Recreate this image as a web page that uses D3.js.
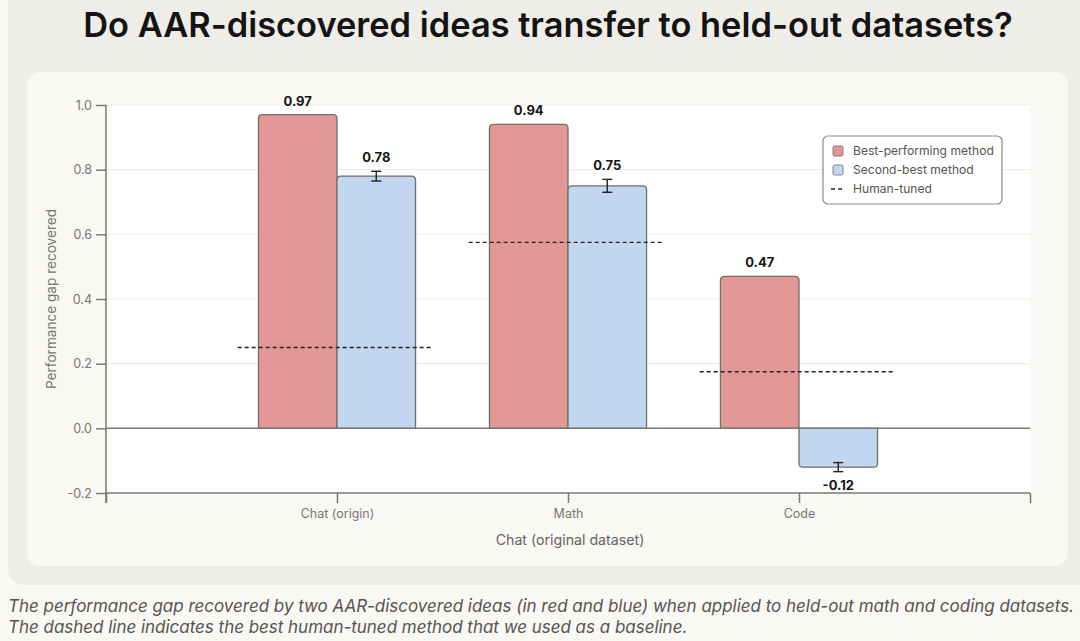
<!DOCTYPE html>
<html><head><meta charset="utf-8">
<script src="https://cdn.jsdelivr.net/npm/d3@7"></script>
<style>
html,body{margin:0;padding:0;background:#f9f8f5;}
svg{display:block;}
</style></head>
<body>
<svg id="c" width="1080" height="641"></svg>
<script>
const categories = ["Chat (origin)", "Math", "Code"];
const bestValues = [0.97, 0.94, 0.47];
const secondValues = [0.78, 0.75, -0.12];
const secondErrors = [0.015, 0.02, 0.014];
const humanTuned = [0.25, 0.575, 0.175];
const yTicks = [-0.2, 0.0, 0.2, 0.4, 0.6, 0.8, 1.0];
const yTickLabels = ["-0.2", "0.0", "0.2", "0.4", "0.6", "0.8", "1.0"];
const seriesNames = ["Best-performing method", "Second-best method", "Human-tuned"];
const seriesColors = ["#e39896", "#c3d6f0"];

const svg = d3.select("#c");
const W = 1080, H = 641;
const font = "Inter, 'Open Sans', sans-serif";

// backgrounds
svg.append("rect").attr("x",0).attr("y",0).attr("width",W).attr("height",H).attr("fill","#f9f8f5");
svg.append("rect").attr("x",8).attr("y",-20).attr("width",1092).attr("height",605).attr("rx",16).attr("fill","#efede7");
svg.append("rect").attr("x",27).attr("y",72).attr("width",1041).attr("height",494).attr("rx",13).attr("fill","#f9f8f5");

const m = {l:106, r:1030, t:105, b:493};
const x = d3.scaleLinear().domain([0, 4]).range([m.l, m.r]);
const y = d3.scaleLinear().domain([-0.2, 1.0]).range([m.b, m.t]);

svg.append("rect").attr("x",m.l).attr("y",m.t).attr("width",m.r-m.l).attr("height",m.b-m.t).attr("fill","#ffffff");

// gridlines
svg.append("g").selectAll("line").data(yTicks.filter(d=>d!==0 && d!==-0.2)).join("line")
  .attr("x1",m.l).attr("x2",m.r).attr("y1",d=>y(d)).attr("y2",d=>y(d))
  .attr("stroke","#f0eee9").attr("stroke-width",1.2);

// title
const title = svg.append("text").attr("x",548).attr("y",37).attr("text-anchor","middle")
  .attr("font-family",font).attr("font-weight",600).attr("font-size",31).attr("fill","#141413")
  .text("Do AAR-discovered ideas transfer to held-out datasets?");
const tl = title.node().getComputedTextLength();
title.attr("font-size", 31*930/tl);

const bw = 0.34;
function barPath(x0, x1, v) {
  const y0 = y(0), y1 = y(v), r = 4;
  if (v >= 0) {
    return `M${x0},${y0}V${y1+r}Q${x0},${y1} ${x0+r},${y1}H${x1-r}Q${x1},${y1} ${x1},${y1+r}V${y0}Z`;
  } else {
    return `M${x0},${y0}V${y1-r}Q${x0},${y1} ${x0+r},${y1}H${x1-r}Q${x1},${y1} ${x1},${y1-r}V${y0}Z`;
  }
}

const g = svg.append("g");
categories.forEach((c,i)=>{
  const cx = i+1;
  g.append("path").attr("d", barPath(x(cx-bw), x(cx), bestValues[i]))
    .attr("fill",seriesColors[0]).attr("stroke","#6e6e6b").attr("stroke-width",1.3);
  g.append("path").attr("d", barPath(x(cx), x(cx+bw), secondValues[i]))
    .attr("fill",seriesColors[1]).attr("stroke","#6e6e6b").attr("stroke-width",1.3);
});

// zero line
svg.append("line").attr("x1",m.l).attr("x2",m.r).attr("y1",y(0)).attr("y2",y(0))
  .attr("stroke","#7a7975").attr("stroke-width",1.5);

// error bars
categories.forEach((c,i)=>{
  const ex = x(i+1+bw/2);
  const lo = y(secondValues[i]-secondErrors[i]), hi = y(secondValues[i]+secondErrors[i]);
  g.append("line").attr("x1",ex).attr("x2",ex).attr("y1",lo).attr("y2",hi).attr("stroke","#222").attr("stroke-width",1.4);
  [lo,hi].forEach(yy=>g.append("line").attr("x1",ex-5).attr("x2",ex+5).attr("y1",yy).attr("y2",yy).attr("stroke","#222").attr("stroke-width",1.4));
});

// human-tuned dashed lines
categories.forEach((c,i)=>{
  g.append("line").attr("x1",x(i+1-0.43)).attr("x2",x(i+1+0.415))
    .attr("y1",y(humanTuned[i])).attr("y2",y(humanTuned[i]))
    .attr("stroke","#222").attr("stroke-width",1.3).attr("stroke-dasharray","4,3");
});

// value labels
categories.forEach((c,i)=>{
  const cx = i+1;
  g.append("text").attr("x",x(cx-bw/2)).attr("y",y(bestValues[i])-9)
    .attr("text-anchor","middle").attr("font-family",font).attr("font-weight",700).attr("font-size",13).attr("fill","#141413")
    .text(bestValues[i].toFixed(2));
  const v = secondValues[i], e = secondErrors[i];
  const ly = v>=0 ? y(v+e)-9 : y(v-e)+18;
  g.append("text").attr("x",x(cx+bw/2)).attr("y",ly)
    .attr("text-anchor","middle").attr("font-family",font).attr("font-weight",700).attr("font-size",13).attr("fill","#141413")
    .text(v.toFixed(2).replace("\u2212","-"));
});

// axes
const axisColor = "#7a7975";
const yAxis = svg.append("g").attr("transform",`translate(${m.l},0)`)
  .call(d3.axisLeft(y).tickValues(yTicks).tickFormat((d,i)=>yTickLabels[i]).tickSize(10).tickPadding(4));
yAxis.select(".domain").attr("d",`M0,${m.t}V${m.b+10}`);
const xAxis = svg.append("g").attr("transform",`translate(0,${m.b})`)
  .call(d3.axisBottom(x).tickValues([0,1,2,3,4]).tickFormat(d=>categories[d-1]||"").tickSize(10).tickPadding(6));
xAxis.select(".domain").attr("d",`M${m.l},0H${m.r}`);
[yAxis,xAxis].forEach(a=>{
  a.selectAll(".domain").attr("stroke",axisColor).attr("stroke-width",1.5);
  a.selectAll(".tick line").attr("stroke",axisColor).attr("stroke-width",1.5);
  a.selectAll(".tick text").attr("fill","#77766f").attr("font-family",font).attr("font-size",12.5);
});

// axis titles
svg.append("text").attr("transform",`translate(56,${(m.t+m.b)/2}) rotate(-90)`).attr("text-anchor","middle")
  .attr("font-family",font).attr("font-size",13.6).attr("fill","#77766f").text("Performance gap recovered");
svg.append("text").attr("x",x(2)+2).attr("y",545).attr("text-anchor","middle")
  .attr("font-family",font).attr("font-size",14.2).attr("fill","#66655f").text("Chat (original dataset)");

// legend
const lg = svg.append("g").attr("transform","translate(823,136)");
lg.append("rect").attr("width",179).attr("height",68).attr("rx",5).attr("fill","#ffffff").attr("stroke","#8a8984").attr("stroke-width",1.2);
seriesNames.forEach((n,i)=>{
  const yy = 15 + i*19;
  if (i<2) {
    lg.append("rect").attr("x",10).attr("y",yy-5).attr("width",10).attr("height",10).attr("rx",1.5)
      .attr("fill",seriesColors[i]).attr("stroke","#6e6e6b").attr("stroke-width",0.8);
  } else {
    lg.append("line").attr("x1",8).attr("x2",22).attr("y1",yy).attr("y2",yy)
      .attr("stroke","#222").attr("stroke-width",1.3).attr("stroke-dasharray","4,3");
  }
  lg.append("text").attr("x",30).attr("y",yy+4).attr("font-family",font).attr("font-size",12.1).attr("fill","#55544f").text(n);
});

// caption
const cap = ["The performance gap recovered by two AAR-discovered ideas (in red and blue) when applied to held-out math and coding datasets.",
             "The dashed line indicates the best human-tuned method that we used as a baseline."];
let capSize = 17;
cap.forEach((t,i)=>{
  const tx = svg.append("text").attr("x",8).attr("y",612+i*21).attr("font-family",font).attr("font-style","italic")
    .attr("font-size",capSize).attr("fill","#55544f").text(t);
  if (i===0) { const L = tx.node().getComputedTextLength(); capSize = 17*1067/L; tx.attr("font-size",capSize); }
});
</script>
</body></html>
